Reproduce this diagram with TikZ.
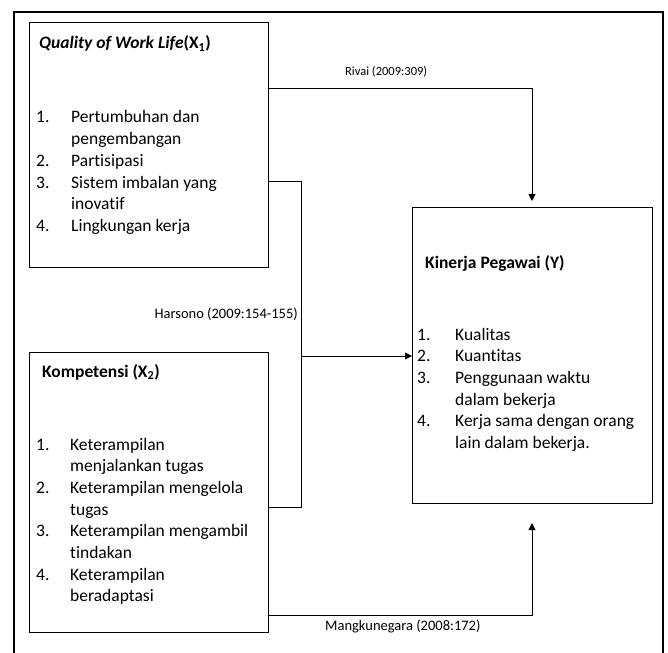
\documentclass[tikz,border=0pt]{standalone}
\usepackage{fontspec}
\setmainfont{Carlito}[Ligatures=NoCommon]
\usetikzlibrary{arrows.meta}

\newcommand{\itemlist}[2]{\begin{tabular}[t]{@{}p{#1}@{}l@{}}#2\end{tabular}}

\tikzset{
  box/.style={draw, line width=1.1pt, anchor=north west, inner sep=0pt},
  txt/.style={inner sep=0pt, anchor=base west, font=\fontsize{17.5}{21.7}\selectfont},
  lbl/.style={inner sep=0pt, font=\fontsize{14.5}{16}\selectfont},
  conn/.style={line width=0.9pt},
  arr/.style={conn, -{Triangle[length=7pt,width=7pt]}}
}

\begin{document}
\begin{tikzpicture}[x=1pt,y=-1pt]
\useasboundingbox (0,0) rectangle (668,652);
% outer frame
\draw[line width=2pt] (14,660) -- (14,12) -- (663,12) -- (663,660);

% boxes
\node[box, minimum width=239pt, minimum height=245pt] (X1) at (29,22) {};
\node[box, minimum width=239pt, minimum height=280pt] (X2) at (29,352) {};
\node[box, minimum width=240pt, minimum height=296pt] (Y) at (412,207) {};

% texts
\node[txt] (X1title) at (39,49) {\textbf{\textit{Quality of Work Life}(X\textsubscript{1})}};
\node[txt] (X1list) at (36,123) {\itemlist{35pt}{
1. & Pertumbuhan dan\\
   & pengembangan\\
2. & Partisipasi\\
3. & Sistem imbalan yang\\
   & inovatif\\
4. & Lingkungan kerja}};

\node[txt] (X2title) at (42,377) {\textbf{Kompetensi (X\textsubscript{2})}};
\node[txt] (X2list) at (36,450) {\itemlist{34pt}{
1. & Keterampilan\\
   & menjalankan tugas\\
2. & Keterampilan mengelola\\
   & tugas\\
3. & Keterampilan mengambil\\
   & tindakan\\
4. & Keterampilan\\
   & beradaptasi}};

\node[txt] (Ytitle) at (425,268) {\textbf{Kinerja Pegawai (Y)}};
\node[txt] (Ylist) at (417,340) {\itemlist{38pt}{
1. & Kualitas\\
2. & Kuantitas\\
3. & Penggunaan waktu\\
   & dalam bekerja\\
4. & Kerja sama dengan orang\\
   & lain dalam bekerja.}};

% connectors
\coordinate (rv) at (532,88);
\coordinate (hs) at (301,356);
\coordinate (mk) at (532,615);
\draw[arr] (X1.east |- rv) -| ([yshift=6pt]Y.north -| rv);
\draw[conn] (X1.east |- 0,181) -| (hs);
\draw[conn] (X2.east |- 0,507) -| (hs);
\draw[arr] (hs) -- (Y.west |- hs);
\draw[arr] (X2.east |- mk) -| ([yshift=-19pt]Y.south -| mk);

% labels
\node[lbl, anchor=base west, font=\fontsize{12.5}{14}\selectfont] (rivai) at (345,76) {Rivai (2009:309)};
\node[lbl, anchor=base east] (harsono) at (298,318) {Harsono (2009:154-155)};
\node[lbl, anchor=base west] (mangku) at (325,630) {Mangkunegara (2008:172)};
\end{tikzpicture}
\end{document}
